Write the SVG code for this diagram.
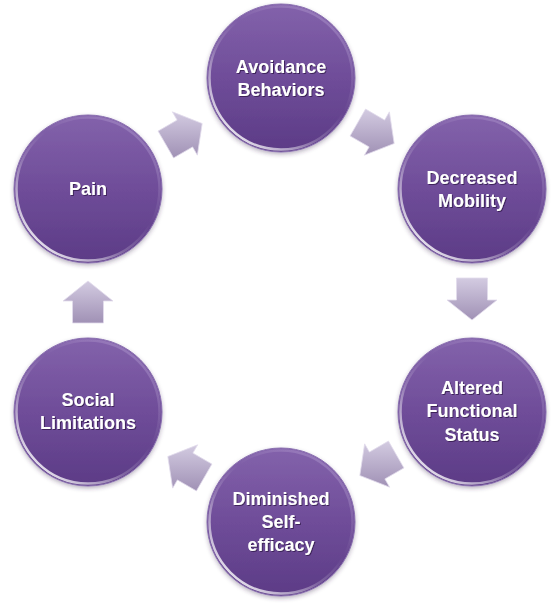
<svg xmlns="http://www.w3.org/2000/svg" width="560" height="605" viewBox="0 0 560 605">
  <defs>
    <linearGradient id="ballFill" x1="0" y1="0" x2="0" y2="1">
      <stop offset="0" stop-color="#8362ab"/>
      <stop offset="0.5" stop-color="#6f4d99"/>
      <stop offset="1" stop-color="#5c3b86"/>
    </linearGradient>
    <linearGradient id="rimLight" x1="0.15" y1="0.9" x2="0.85" y2="0.1">
      <stop offset="0" stop-color="#ffffff" stop-opacity="0.85"/>
      <stop offset="0.35" stop-color="#ffffff" stop-opacity="0.2"/>
      <stop offset="0.6" stop-color="#ffffff" stop-opacity="0"/>
      <stop offset="1" stop-color="#d8c8f0" stop-opacity="0.25"/>
    </linearGradient>
    <linearGradient id="arrowFill" x1="0" y1="0" x2="0" y2="1">
      <stop offset="0" stop-color="#d3cbe1"/>
      <stop offset="1" stop-color="#a091b5"/>
    </linearGradient>
    <filter id="ballShadow" x="-20%" y="-20%" width="140%" height="140%">
      <feDropShadow dx="0" dy="2" stdDeviation="2" flood-color="#3a2a50" flood-opacity="0.35"/>
    </filter>
    <filter id="textShadow" x="-10%" y="-20%" width="120%" height="140%">
      <feDropShadow dx="1" dy="1" stdDeviation="0.6" flood-color="#2a1540" flood-opacity="0.7"/>
    </filter>
  </defs>
  <style>
    .ball { fill: url(#ballFill); stroke: #8a70b0; stroke-width: 1; filter: url(#ballShadow); }
    .rim { fill: none; stroke: url(#rimLight); stroke-width: 2.5; }
    .lbl { font-family: "Liberation Sans", Arial, sans-serif; font-weight: bold; font-size: 18px; fill: #ffffff; text-anchor: middle; filter: url(#textShadow); }
    .arrow { fill: url(#arrowFill); stroke: #e2dcec; stroke-width: 0.8; stroke-linejoin: round; }
  </style>
  <rect width="560" height="605" fill="#ffffff"/>

  <g id="connectors">
    <polygon class="arrow" points="158.06,131.08 177.12,120.08 172.37,111.85 202.19,123.5 197.37,155.15 192.62,146.92 173.56,157.92"/>
    <polygon class="arrow" points="365.56,109.08 384.62,120.08 389.37,111.85 394.19,143.5 364.37,155.15 369.12,146.92 350.06,135.92"/>
    <polygon class="arrow" points="487.5,278 487.5,300 497,300 472,320 447,300 456.5,300 456.5,278"/>
    <polygon class="arrow" points="403.94,467.92 384.88,478.92 389.63,487.15 359.81,475.5 364.63,443.85 369.38,452.08 388.44,441.08"/>
    <polygon class="arrow" points="196.44,490.92 177.38,479.92 172.63,488.15 167.81,456.5 197.63,444.85 192.88,453.08 211.94,464.08"/>
    <polygon class="arrow" points="72.5,323 72.5,301 63,301 88,281 113,301 103.5,301 103.5,323"/>
  </g>

  <g id="node-avoidance">
    <circle class="ball" cx="281" cy="78" r="74"/>
    <circle class="rim" cx="281" cy="78" r="71.5"/>
    <text class="lbl" x="281" y="73">Avoidance</text>
    <text class="lbl" x="281" y="96">Behaviors</text>
  </g>

  <g id="node-decreased">
    <circle class="ball" cx="472" cy="189" r="74"/>
    <circle class="rim" cx="472" cy="189" r="71.5"/>
    <text class="lbl" x="472" y="184">Decreased</text>
    <text class="lbl" x="472" y="207">Mobility</text>
  </g>

  <g id="node-altered">
    <circle class="ball" cx="472" cy="412" r="74"/>
    <circle class="rim" cx="472" cy="412" r="71.5"/>
    <text class="lbl" x="472" y="394">Altered</text>
    <text class="lbl" x="472" y="417">Functional</text>
    <text class="lbl" x="472" y="441">Status</text>
  </g>

  <g id="node-diminished">
    <circle class="ball" cx="281" cy="522" r="74"/>
    <circle class="rim" cx="281" cy="522" r="71.5"/>
    <text class="lbl" x="281" y="505">Diminished</text>
    <text class="lbl" x="281" y="528">Self-</text>
    <text class="lbl" x="281" y="551">efficacy</text>
  </g>

  <g id="node-social">
    <circle class="ball" cx="88" cy="412" r="74"/>
    <circle class="rim" cx="88" cy="412" r="71.5"/>
    <text class="lbl" x="88" y="406">Social</text>
    <text class="lbl" x="88" y="429">Limitations</text>
  </g>

  <g id="node-pain">
    <circle class="ball" cx="88" cy="189" r="74"/>
    <circle class="rim" cx="88" cy="189" r="71.5"/>
    <text class="lbl" x="88" y="195">Pain</text>
  </g>
</svg>
